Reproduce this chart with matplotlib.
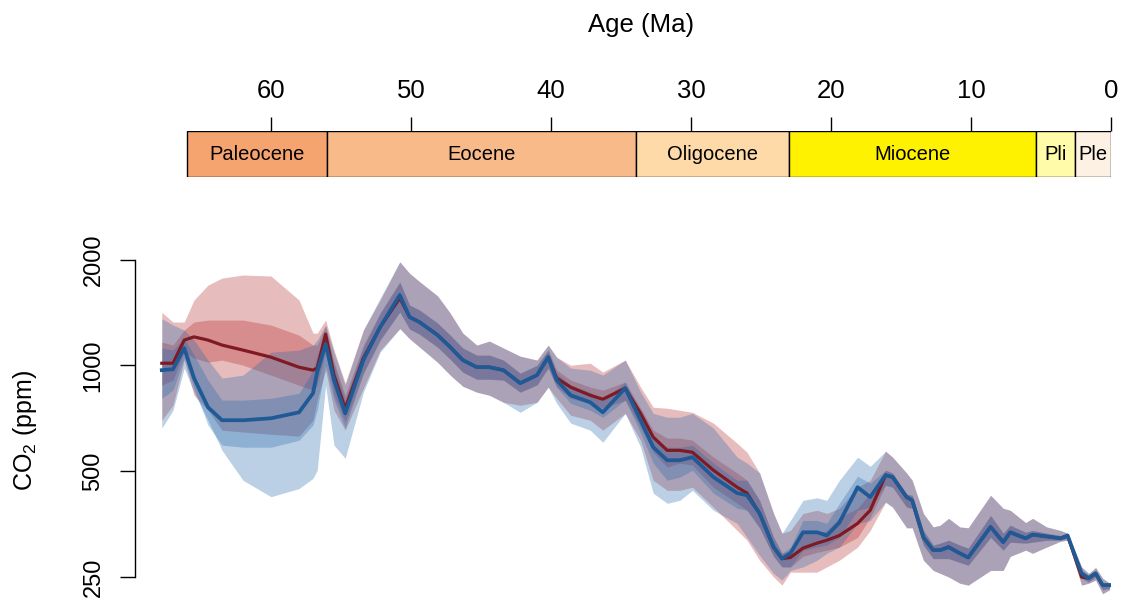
import numpy as np
import matplotlib
matplotlib.use("Agg")
import matplotlib.pyplot as plt

plt.rcParams['font.family'] = ['Liberation Sans', 'DejaVu Sans']

# --- CO2 reconstruction, two model variants (median, 50% and 95% ranges) ---
ages = [67.8, 67.0, 66.2, 65.5, 64.5, 63.5, 62.0, 60.0, 58.0, 57.0,
        56.7, 56.1, 55.5, 54.7, 53.4, 52.2, 50.8, 50.1, 49.4, 48.1,
        47.2, 46.3, 45.3, 44.4, 43.4, 42.2, 41.0, 40.2, 39.6, 38.6,
        37.2, 36.3, 34.7, 33.6, 32.7, 31.7, 30.8, 29.9, 28.4, 26.7,
        26.0, 25.1, 24.1, 23.5, 22.9, 22.0, 21.0, 20.3, 19.4, 18.1,
        17.2, 16.1, 15.6, 14.6, 14.2, 13.4, 12.7, 12.2, 11.6, 10.8,
        10.2, 8.6, 7.7, 7.2, 6.1, 5.6, 4.6, 3.6, 3.1, 2.1,
        1.6, 1.1, 0.6, 0.1]

red_med = [1014, 1014, 1180, 1205, 1180, 1142, 1105, 1055, 988, 969,
           982, 1227, 938, 755, 1049, 1285, 1554, 1372, 1328, 1219,
           1127, 1035, 988, 988, 969, 890, 938, 1055, 920, 867,
           822, 801, 861, 730, 625, 573, 573, 566, 503, 450,
           433, 379, 304, 282, 284, 302, 312, 318, 328, 355,
           387, 487, 481, 422, 413, 324, 298, 298, 304, 292,
           284, 347, 314, 335, 322, 330, 326, 322, 328, 250,
           248, 256, 237, 237]
red_lo50 = [878, 908, 1090, 1049, 1021, 1035, 1001, 938, 878, 850,
            878, 1090, 822, 689, 950, 1180, 1418, 1268, 1227, 1126,
            1041, 956, 913, 913, 908, 839, 880, 982, 870, 806,
            780, 755, 796, 667, 566, 513, 527, 520, 450, 405,
            387, 345, 286, 267, 267, 286, 294, 298, 304, 324,
            369, 456, 450, 395, 392, 308, 282, 282, 282, 275,
            270, 324, 298, 314, 312, 314, 318, 318, 322, 248,
            242, 250, 230, 232]
red_hi50 = [1165, 1142, 1260, 1328, 1345, 1345, 1345, 1302, 1219, 1142,
            1142, 1294, 1021, 822, 1142, 1408, 1726, 1484, 1437, 1319,
            1219, 1120, 1069, 1069, 1035, 950, 1000, 1105, 970, 908,
            867, 850, 896, 755, 654, 621, 621, 612, 548, 494,
            471, 413, 324, 292, 298, 333, 333, 339, 369, 392,
            433, 503, 494, 430, 427, 339, 308, 312, 318, 308,
            302, 374, 333, 351, 335, 339, 333, 328, 331, 261,
            253, 261, 240, 239]
red_lo95 = [698, 770, 1035, 822, 745, 654, 646, 637, 629, 698,
            796, 969, 745, 654, 861, 1105, 1272, 1190, 1128, 1020,
            938, 872, 839, 822, 785, 770, 785, 867, 806, 721,
            698, 654, 730, 612, 471, 441, 441, 450, 395, 339,
            318, 279, 250, 237, 258, 258, 258, 267, 279, 304,
            339, 408, 395, 345, 345, 279, 261, 256, 250, 240,
            237, 261, 261, 286, 298, 292, 304, 316, 318, 237,
            240, 245, 224, 230]
red_hi95 = [1415, 1328, 1328, 1534, 1692, 1771, 1807, 1795, 1534, 1235,
            1235, 1345, 1105, 891, 1260, 1534, 1970, 1827, 1732, 1576,
            1408, 1235, 1142, 1172, 1120, 1062, 1035, 1142, 1055, 1001,
            1014, 957, 1035, 867, 760, 755, 745, 735, 685, 600,
            566, 494, 379, 333, 339, 379, 387, 379, 392, 450,
            471, 570, 548, 494, 471, 379, 347, 351, 367, 347,
            345, 427, 392, 387, 357, 367, 347, 339, 333, 267,
            256, 266, 248, 240]

blue_med = [969, 975, 1120, 920, 760, 698, 698, 707, 735, 833,
            957, 1150, 908, 730, 1035, 1285, 1585, 1372, 1328, 1219,
            1127, 1035, 988, 988, 969, 890, 938, 1055, 908, 822,
            785, 735, 861, 698, 585, 537, 537, 548, 481, 433,
            427, 379, 304, 282, 292, 335, 335, 328, 357, 450,
            422, 487, 481, 422, 413, 324, 298, 298, 304, 292,
            284, 347, 314, 335, 322, 330, 326, 322, 328, 256,
            248, 256, 237, 237]
blue_lo50 = [806, 850, 1049, 861, 676, 593, 585, 585, 612, 676,
             745, 1001, 796, 663, 950, 1180, 1418, 1268, 1227, 1126,
             1041, 956, 913, 913, 908, 839, 880, 982, 867, 780,
             745, 711, 796, 642, 527, 471, 481, 503, 433, 392,
             387, 345, 286, 267, 267, 298, 304, 308, 324, 387,
             395, 456, 450, 395, 392, 308, 282, 282, 282, 275,
             270, 324, 298, 314, 312, 314, 318, 318, 322, 248,
             242, 250, 230, 232]
blue_hi50 = [1120, 1105, 1195, 1069, 908, 796, 796, 806, 833, 969,
             1069, 1235, 1001, 796, 1127, 1408, 1726, 1484, 1437, 1319,
             1219, 1120, 1069, 1069, 1035, 950, 1000, 1105, 950, 878,
             839, 796, 896, 730, 621, 585, 585, 593, 527, 471,
             471, 413, 324, 292, 304, 362, 362, 355, 405, 484,
             462, 503, 494, 430, 427, 339, 308, 312, 318, 308,
             302, 374, 333, 351, 335, 339, 333, 328, 331, 261,
             253, 261, 240, 239]
blue_lo95 = [663, 745, 982, 839, 698, 573, 471, 423, 446, 477,
             503, 878, 593, 544, 839, 1090, 1272, 1190, 1128, 1020,
             938, 872, 839, 822, 785, 735, 785, 867, 780, 685,
             654, 604, 730, 585, 433, 405, 413, 441, 387, 355,
             324, 288, 256, 245, 261, 267, 279, 292, 304, 355,
             362, 408, 395, 345, 345, 279, 261, 256, 250, 240,
             237, 261, 261, 286, 298, 292, 304, 316, 318, 237,
             240, 245, 224, 230]
blue_hi95 = [1358, 1302, 1260, 1180, 1035, 920, 938, 1090, 1105, 1142,
             1180, 1302, 1090, 878, 1260, 1554, 1970, 1827, 1732, 1576,
             1408, 1235, 1142, 1172, 1120, 1062, 1035, 1142, 1055, 982,
             969, 938, 1035, 839, 730, 712, 712, 730, 663, 548,
             527, 494, 379, 333, 362, 413, 420, 413, 471, 548,
             516, 570, 548, 494, 471, 379, 347, 351, 367, 347,
             345, 427, 392, 387, 357, 367, 347, 339, 333, 267,
             256, 266, 248, 240]

# --- geologic epochs ---
epoch_names = ['Paleocene', 'Eocene', 'Oligocene', 'Miocene', 'Pli', 'Ple']
epoch_start = [66.0, 56.0, 33.9, 23.03, 5.333, 2.58]
epoch_end = [56.0, 33.9, 23.03, 5.333, 2.58, 0.0]
epoch_colors = ['#F5A46F', '#F9BA8A', '#FDDAA8', '#FFF200', '#FFFBA8', '#FDF1E3']

age_ticks = [60, 50, 40, 30, 20, 10, 0]
co2_ticks = [250, 500, 1000, 2000]

W, H = 1126, 602
fig = plt.figure(figsize=(W / 100, H / 100), dpi=100)


def add_px_axes(x0, y0, x1, y1):
    # axes placed by pixel box (top-left origin)
    return fig.add_axes([x0 / W, 1 - y1 / H, (x1 - x0) / W, (y1 - y0) / H])


age_left = (1111 - 135) / 14.0

# ---------- timescale bar ----------
ax_ts = add_px_axes(135, 131, 1111, 177)
widths = [s - e for s, e in zip(epoch_start, epoch_end)]
ax_ts.bar(epoch_end, [1] * len(epoch_end), width=widths, bottom=0, align='edge',
          color=epoch_colors, edgecolor='black', linewidth=1.0)
for name, s, e in zip(epoch_names, epoch_start, epoch_end):
    ax_ts.text((s + e) / 2, 0.5, name, ha='center', va='center', fontsize=14.5)
ax_ts.set_xlim(age_left, 0)
ax_ts.set_ylim(0, 1)
for sp in ax_ts.spines.values():
    sp.set_visible(False)
ax_ts.xaxis.tick_top()
ax_ts.set_xticks(age_ticks)
ax_ts.set_xticklabels([str(a) for a in age_ticks])
ax_ts.tick_params(axis='x', length=10, width=1.0, labelsize=18.5, pad=10)
ax_ts.set_yticks([])

fig.text(641 / W, 1 - 25 / H, 'Age (Ma)', ha='center', va='center', fontsize=18.5)

# ---------- CO2 panel ----------
ax = add_px_axes(135, 240, 1111, 600)
ax.set_yscale('log')

red_fill = '#B22222'
blue_fill = '#2166AC'
ax.fill_between(ages, red_lo95, red_hi95, color=red_fill, alpha=0.3, lw=0)
ax.fill_between(ages, red_lo50, red_hi50, color=red_fill, alpha=0.3, lw=0)
ax.fill_between(ages, blue_lo95, blue_hi95, color=blue_fill, alpha=0.3, lw=0)
ax.fill_between(ages, blue_lo50, blue_hi50, color=blue_fill, alpha=0.3, lw=0)
ax.plot(ages, red_med, color='#801A22', lw=2.3, solid_joinstyle='round')
ax.plot(ages, blue_med, color='#1F5A96', lw=2.7, solid_joinstyle='round')

ax.set_xlim(age_left, 0)
ax.set_ylim(215, 2273)
for side in ['top', 'right', 'bottom']:
    ax.spines[side].set_visible(False)
ax.spines['left'].set_bounds(250, 2000)
ax.spines['left'].set_linewidth(1.0)
ax.set_xticks([])
ax.set_yticks(co2_ticks)
ax.set_yticklabels([str(v) for v in co2_ticks], rotation=90, va='center')
ax.yaxis.set_minor_locator(matplotlib.ticker.NullLocator())
ax.tick_params(axis='y', length=11, width=1.0, labelsize=17, pad=11)
ax.patch.set_visible(False)

fig.text(25 / W, 1 - 431 / H, r'$\mathregular{CO_2}$ (ppm)', rotation=90,
         ha='center', va='center', fontsize=18)

fig.savefig('out.png', dpi=100)
